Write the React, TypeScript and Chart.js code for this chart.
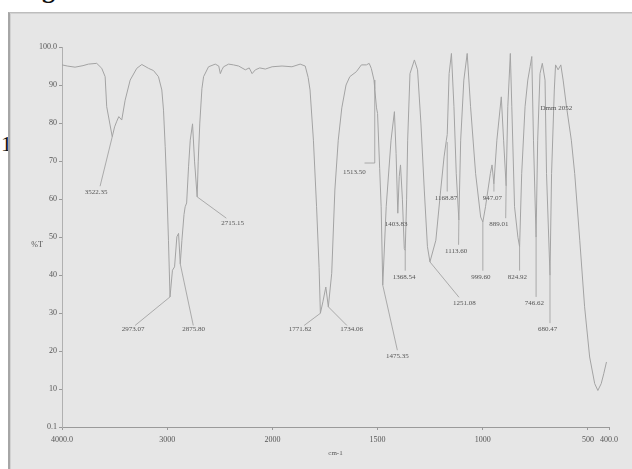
import React, { useEffect, useRef } from "react";
import { Chart, registerables } from "chart.js";

Chart.register(...registerables);

// ---- data ----
const wavenumbers = [
  4000, 3950, 3876, 3800, 3749, 3670, 3622, 3590, 3575, 3543, 3522.35, 3500, 3479, 3460, 3432, 3400, 3352, 3289, 3241, 3178,
  3130, 3083, 3051, 3035, 3019, 3003, 2988, 2973.07, 2950, 2930, 2908, 2892, 2875.8, 2860, 2840, 2829, 2815, 2797, 2781, 2759,
  2740, 2715.15, 2705, 2690, 2670, 2654, 2607, 2543, 2510, 2495, 2480, 2464, 2416, 2370, 2321, 2257, 2220, 2193, 2162, 2120,
  2067, 2003, 1954, 1907, 1868, 1844, 1830, 1821, 1805, 1790, 1778, 1771.82, 1760, 1746, 1734.06, 1718, 1703, 1687, 1670, 1650,
  1632, 1601, 1577, 1553, 1540, 1530, 1517, 1513.5, 1505, 1500, 1490, 1483, 1475.35, 1459, 1436, 1420, 1412, 1403.83, 1397, 1391,
  1382, 1373, 1368.54, 1362, 1357, 1346, 1325, 1310, 1294, 1278, 1263, 1251.08, 1223, 1200, 1184, 1173, 1168.87, 1160, 1149, 1137,
  1126, 1113.6, 1105, 1090, 1074, 1058, 1034, 1010, 999.6, 987, 964, 956, 947.07, 933, 912, 901, 889.01, 881, 869, 862,
  849, 833, 824.92, 815, 799, 786, 775, 767, 759, 746.62, 739, 728, 717, 704, 697, 680.47, 673, 660, 654, 642,
  629, 618, 602, 579, 563, 539, 516, 492, 468, 453, 437, 425, 412,
];
const transmittance = [
  95.3, 95.0, 94.7, 95.1, 95.5, 95.7, 94.4, 92.2, 84.3, 79.5, 76.4, 79.0, 80.5, 81.7, 80.8, 86, 91.3, 94.4, 95.4, 94.4,
  93.8, 92.2, 88.7, 83.4, 73.8, 62.4, 49.2, 34.3, 41.3, 42.2, 50.1, 51.0, 43, 49.2, 56, 58, 59, 68.5, 75.5, 79.8,
  70, 60.6, 70, 80, 89, 92.2, 94.8, 95.5, 95, 93.0, 94, 94.8, 95.5, 95.3, 95, 94, 94.5, 93, 94, 94.5,
  94.2, 94.8, 95, 94.8, 95.5, 95, 92, 88.7, 75.5, 58, 42, 30, 33, 36.9, 31.7, 40.5, 62.4, 75.5, 84, 90,
  92.2, 93.5, 95.3, 95.3, 95.7, 94.4, 91.3, 89, 84, 82.5, 68, 58, 37.4, 58, 75.5, 83, 72, 56.3, 66, 69,
  60, 47, 46.5, 60, 75.5, 93, 96.6, 94, 80, 62.4, 47.5, 43.5, 49.2, 62.4, 71.1, 75.5, 77, 93, 98.3, 84.3,
  66.7, 54.5, 75.5, 91.3, 98.3, 84.3, 66.7, 55.3, 54, 58, 66.7, 69, 64, 75.5, 86.9, 75.5, 63.5, 84.3, 98.3, 84.3,
  58, 50, 47.5, 66.7, 84.3, 91.3, 94.8, 97.5, 75.5, 50, 75.5, 93, 95.7, 91.3, 66.7, 40, 66.7, 88.7, 95.3, 94,
  95.3, 91.3, 84.3, 75.5, 66.7, 49.2, 31.7, 18.5, 11.5, 9.7, 11.5, 14.1, 17.2,
];

const xTickValues = [4000, 3000, 2000, 1500, 1000, 500, 400];
const xTickLabels = ["4000.0", "3000", "2000", "1500", "1000", "500", "400.0"];
const yTickValues = [0.1, 10, 20, 30, 40, 50, 60, 70, 80, 90, 100];
const yTickLabels = ["0.1", "10", "20", "30", "40", "50", "60", "70", "80", "90", "100.0"];

const peakLabels = [
  "3522.35", "2973.07", "2875.80", "2715.15", "1771.82", "1734.06", "1513.50", "1475.35", "1403.83", "1368.54",
  "1251.08", "1168.87", "1113.60", "999.60", "947.07", "889.01", "824.92", "746.62", "680.47",
];
const peakLabelW = [3676, 3324, 2748, 2378, 1868, 1623, 1610, 1406, 1412, 1374, 1088, 1175, 1127, 1009, 954, 923, 836, 755, 692];
const peakLabelT = [61.8, 25.8, 25.8, 53.7, 25.8, 25.8, 67.2, 18.7, 53.3, 39.5, 32.7, 60.3, 46.4, 39.5, 60.3, 53.3, 39.5, 32.7, 25.7];
const leaderW = [
  [3638, 3522.35], [3305, 2973.07], [2752, 2875.8], [2438, 2715.15], [1849, 1771.82], [1646, 1734.06],
  [1562, 1513.5, 1513.5], [1406, 1475.35], [], [1368.54, 1368.54], [1113, 1251.08], [1169, 1169], [1115, 1113.6],
  [999.6, 999.6], [947, 947], [891, 889], [825, 825], [746.6, 746.6], [680.5, 680.5],
];
const leaderT = [
  [63.4, 76.4], [26.8, 34.3], [26.8, 43], [55, 60.6], [26.8, 30], [26.8, 31.7],
  [69.5, 69.5, 89], [20.3, 37.4], [], [41.2, 46.5], [34.2, 43.5], [62, 75], [48, 54.5],
  [41.2, 54], [62, 64], [55, 63.5], [41.2, 47.5], [34.3, 50], [27.4, 40],
];
const noteText = "Dmm 2052";
const noteW = 650;
const noteT = 84;

// wavenumber -> position on the split axis (scale change at 2000 cm-1)
const toU = (w: number) => (w >= 2000 ? (4000 - w) / 2 : 1000 + (2000 - w));

const SERIF = "'Liberation Serif', 'Times New Roman', serif";

const annotationPlugin = {
  id: "irAnnotations",
  afterDatasetsDraw(chart: any) {
    const { ctx, scales, chartArea } = chart;
    const xs = scales.x;
    const ys = scales.y;
    const px = (w: number) => xs.getPixelForValue(toU(w));
    const py = (t: number) => ys.getPixelForValue(t);
    ctx.save();
    ctx.strokeStyle = "#9a9a9a";
    ctx.lineWidth = 0.8;
    leaderW.forEach((ws, i) => {
      if (ws.length < 2) return;
      ctx.beginPath();
      ws.forEach((w, j) => {
        const X = px(w);
        const Y = py(leaderT[i][j]);
        if (j === 0) ctx.moveTo(X, Y);
        else ctx.lineTo(X, Y);
      });
      ctx.stroke();
    });
    ctx.fillStyle = "#555";
    ctx.font = `7px ${SERIF}`;
    ctx.textAlign = "center";
    ctx.textBaseline = "middle";
    peakLabels.forEach((t, i) => {
      ctx.fillText(t, px(peakLabelW[i]), py(peakLabelT[i]));
    });
    ctx.fillText(noteText, px(noteW), py(noteT));
    // axis titles
    ctx.font = `8px ${SERIF}`;
    ctx.fillText("%T", chartArea.left - 25, (chartArea.top + chartArea.bottom) / 2 + 8);
    ctx.font = `7px ${SERIF}`;
    ctx.fillText("cm-1", (chartArea.left + chartArea.right) / 2, chartArea.bottom + 26);
    ctx.restore();
  },
};

export default function App() {
  const ref = useRef<HTMLCanvasElement | null>(null);
  useEffect(() => {
    if (!ref.current) return;
    const chart = new Chart(ref.current, {
      type: "line",
      data: {
        datasets: [
          {
            data: wavenumbers.map((w, i) => ({ x: toU(w), y: transmittance[i] })),
            borderColor: "#a3a3a3",
            borderWidth: 1,
            pointRadius: 0,
            tension: 0,
            fill: false,
          },
        ],
      },
      options: {
        animation: false,
        responsive: false,
        events: [],
        layout: { padding: { left: 22, top: 47, right: 23, bottom: 0 } },
        plugins: { legend: { display: false }, tooltip: { enabled: false }, title: { display: false } },
        scales: {
          x: {
            type: "linear",
            min: 0,
            max: toU(400),
            afterBuildTicks: (s: any) => {
              s.ticks = xTickValues.map((w) => ({ value: toU(w) }));
            },
            afterFit: (s: any) => {
              s.height = 42;
            },
            ticks: {
              autoSkip: false,
              maxRotation: 0,
              padding: 5,
              color: "#555",
              font: { family: SERIF, size: 8 },
              callback: (_v: any, i: number) => xTickLabels[i],
            },
            grid: { drawOnChartArea: false, drawTicks: true, tickLength: 3, color: "#9a9a9a" },
            border: { color: "#9a9a9a", width: 1 },
          },
          y: {
            type: "linear",
            min: 0.1,
            max: 100,
            afterBuildTicks: (s: any) => {
              s.ticks = yTickValues.map((v) => ({ value: v }));
            },
            afterFit: (s: any) => {
              s.width = 40;
            },
            ticks: {
              autoSkip: false,
              padding: 2,
              color: "#555",
              font: { family: SERIF, size: 8 },
              callback: (_v: any, i: number) => yTickLabels[i],
            },
            grid: { drawOnChartArea: false, drawTicks: true, tickLength: 3, color: "#9a9a9a" },
            border: { color: "#b0b0b0", width: 1 },
          },
        },
      },
      plugins: [annotationPlugin],
    } as any);
    return () => chart.destroy();
  }, []);

  return (
    <div
      style={{
        position: "fixed",
        left: 0,
        top: 0,
        width: 632,
        height: 469,
        background: "#fff",
        overflow: "hidden",
        filter: "blur(0.45px)",
      }}
    >
      <div
        style={{
          position: "absolute",
          left: 42,
          top: -23,
          fontFamily: SERIF,
          fontWeight: "bold",
          fontSize: 26,
          lineHeight: "26px",
          color: "#111",
        }}
      >
        g
      </div>
      <div
        style={{
          position: "absolute",
          left: 1,
          top: 133,
          fontFamily: SERIF,
          fontSize: 22,
          lineHeight: "22px",
          color: "#111",
        }}
      >
        1
      </div>
      <div
        style={{
          position: "absolute",
          left: 8,
          top: 12,
          width: 640,
          height: 480,
          background: "#e6e6e6",
          borderLeft: "2px solid #a6a6a6",
          borderTop: "1px solid #bdbdbd",
          boxShadow: "inset 1px 1px 0 #d2d2d2",
        }}
      />
      <canvas
        ref={ref}
        width={632}
        height={469}
        style={{ position: "absolute", left: 0, top: 0, width: 632, height: 469 }}
      />
    </div>
  );
}
